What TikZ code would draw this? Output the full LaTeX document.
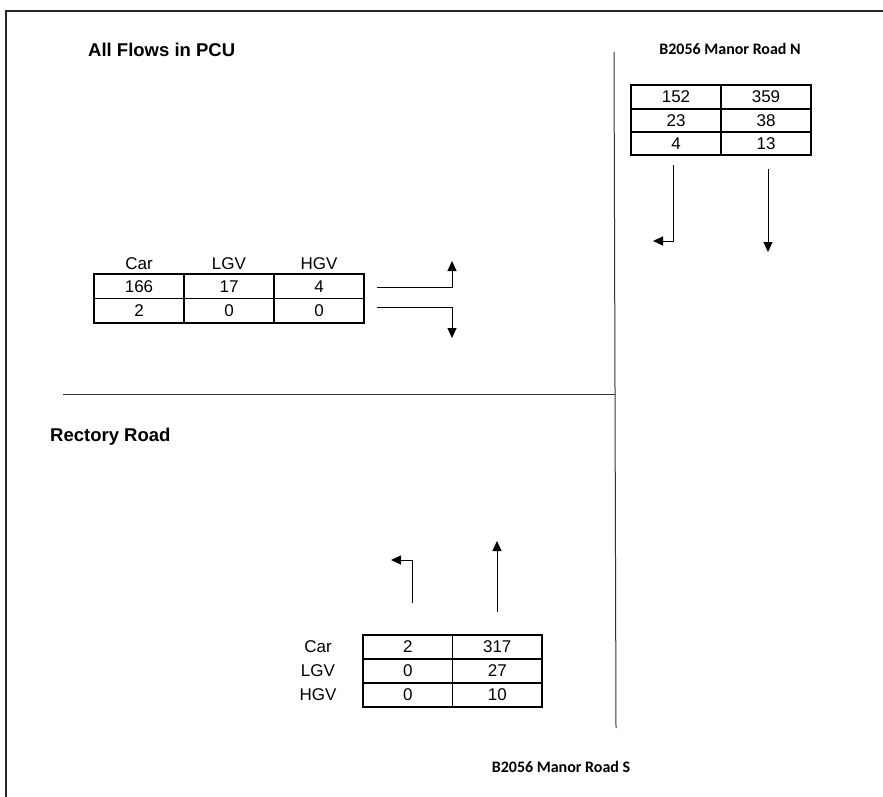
\documentclass[tikz,border=0pt]{standalone}
\usepackage{fontspec}
\setmainfont{Liberation Sans}
\newfontfamily\calibrifont{Carlito}
\usetikzlibrary{positioning, arrows.meta}

\begin{document}
\begin{tikzpicture}[
    x=1pt, y=-1pt,
    node distance=0pt,
    cell/.style={rectangle, draw, line width=1.8pt, outer sep=0pt, inner sep=0pt, minimum width=90pt, minimum height=24pt, font=\fontsize{17}{17}\selectfont},
    hdr/.style={inner sep=0pt, font=\fontsize{17}{17}\selectfont},
    title/.style={inner sep=0pt, anchor=west, font=\bfseries\fontsize{18.5}{18.5}\selectfont},
    roadname/.style={inner sep=0pt, font=\calibrifont\bfseries\fontsize{16}{16}\selectfont},
    road/.style={draw=black!80, line width=1pt},
    flow/.style={draw, line width=0.9pt, -{Triangle[length=10pt, width=9pt]}}
]
\useasboundingbox (0,0) rectangle (883,797);

% Frame and roads
\draw[line width=1.2pt, black!85] (6,797) |- (883,11);
\draw[road] (614,52) -- (616,728);
\draw[road] (63,394) -- (615,394);

% Labels
\node[title] (allflows) at (88,50) {All Flows in PCU};
\node[title] (rectory) at (50,437) {Rectory Road};
\node[roadname] (manorN) at (730,49) {B2056 Manor Road N};
\node[roadname] (manorS) at (561,767) {B2056 Manor Road S};

% North arm
\node[cell, anchor=north west] (n11) at (631,85) {152};
\node[cell, right=of n11] (n12) {359};
\node[cell, below=of n11, minimum height=23pt] (n21) {23};
\node[cell, right=of n21, minimum height=23pt] (n22) {38};
\node[cell, below=of n21, minimum height=23pt] (n31) {4};
\node[cell, right=of n31, minimum height=23pt] (n32) {13};

\coordinate (nLs) at (673,165);
\coordinate (nLe) at (653,241);
\coordinate (nRs) at (768,169);
\coordinate (nRe) at (768,252);
\draw[flow] (nLs) |- (nLe);
\draw[flow] (nRs) -- (nRe);

% West arm
\node[cell, anchor=north west, minimum height=24.5pt] (w11) at (94,274) {166};
\node[cell, right=of w11, minimum height=24.5pt] (w12) {17};
\node[cell, right=of w12, minimum height=24.5pt] (w13) {4};
\node[cell, below=of w11, minimum height=24.5pt] (w21) {2};
\node[cell, right=of w21, minimum height=24.5pt] (w22) {0};
\node[cell, right=of w22, minimum height=24.5pt] (w23) {0};
\node[hdr, above=4pt of w11] (wCar) {Car};
\node[hdr, above=4pt of w12] (wLGV) {LGV};
\node[hdr, above=4pt of w13] (wHGV) {HGV};

\coordinate (wUs) at (377,287);
\coordinate (wUe) at (452,261);
\coordinate (wDs) at (377,307);
\coordinate (wDe) at (452,338);
\draw[flow] (wUs) -| (wUe);
\draw[flow] (wDs) -| (wDe);

% South arm
\node[cell, anchor=north west, minimum width=89.5pt] (s11) at (363,635) {2};
\node[cell, right=of s11, minimum width=89.5pt] (s12) {317};
\node[cell, below=of s11, minimum width=89.5pt] (s21) {0};
\node[cell, right=of s21, minimum width=89.5pt] (s22) {27};
\node[cell, below=of s21, minimum width=89.5pt] (s31) {0};
\node[cell, right=of s31, minimum width=89.5pt] (s32) {10};
\node[hdr] (sCar) at (318,647) {Car};
\node[hdr] (sLGV) at (318,671) {LGV};
\node[hdr] (sHGV) at (318,695) {HGV};

\coordinate (sLs) at (412,603);
\coordinate (sLe) at (391,560);
\coordinate (sRs) at (497,612);
\coordinate (sRe) at (497,541);
\draw[flow] (sLs) |- (sLe);
\draw[flow] (sRs) -- (sRe);

\end{tikzpicture}
\end{document}
